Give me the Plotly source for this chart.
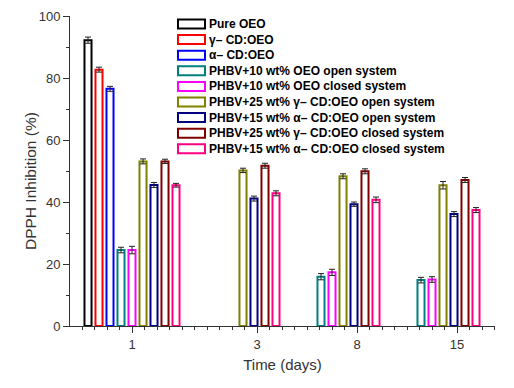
import numpy as np
import plotly.graph_objects as go

days = ["1", "3", "8", "15"]
series = [
    "Pure OEO",
    "γ– CD:OEO",
    "α– CD:OEO",
    "PHBV+10 wt% OEO open system",
    "PHBV+10 wt% OEO closed system",
    "PHBV+25 wt% γ– CD:OEO open system",
    "PHBV+15 wt% α– CD:OEO open system",
    "PHBV+25 wt% γ– CD:OEO closed system",
    "PHBV+15 wt% α– CD:OEO closed system",
]
colors = ["#000000", "#FF0000", "#0000FF", "#008080", "#FF00FF",
          "#808000", "#000080", "#800000", "#FF0080"]

pure_oeo = [92.2, None, None, None]
gamma_cd = [82.7, None, None, None]
alpha_cd = [76.5, None, None, None]
phbv10_open = [24.5, None, 15.9, 14.8]
phbv10_closed = [24.5, None, 17.3, 15.0]
phbv25g_open = [53.1, 50.2, 48.3, 45.4]
phbv15a_open = [45.5, 41.1, 39.3, 36.1]
phbv25g_closed = [53.1, 51.7, 49.9, 47.1]
phbv15a_closed = [45.4, 42.8, 40.7, 37.4]

err_pure = [1.0, None, None, None]
err_gamma = [0.8, None, None, None]
err_alpha = [0.8, None, None, None]
err_10_open = [0.9, None, 1.0, 0.9]
err_10_closed = [1.2, None, 1.0, 0.9]
err_25g_open = [0.8, 0.7, 0.8, 1.2]
err_15a_open = [0.8, 0.8, 0.7, 0.8]
err_25g_closed = [0.7, 0.8, 0.8, 0.8]
err_15a_closed = [0.6, 0.8, 0.9, 0.8]

values = [pure_oeo, gamma_cd, alpha_cd, phbv10_open, phbv10_closed,
          phbv25g_open, phbv15a_open, phbv25g_closed, phbv15a_closed]
errors = [err_pure, err_gamma, err_alpha, err_10_open, err_10_closed,
          err_25g_open, err_15a_open, err_25g_closed, err_15a_closed]

# tick label positions on the numeric group axis (as in the original figure)
label_pos = [1.0, 2.25, 3.25, 4.25]

x_idx = list(range(1, len(days) + 1))

fig = go.Figure()
for name, col, vals, errs in zip(series, colors, values, errors):
    fig.add_trace(go.Bar(
        x=x_idx, y=vals, name=name,
        marker=dict(color="rgba(255,255,255,0)", line=dict(color=col, width=2)),
        error_y=dict(type="data", array=errs, visible=True, color="#222222",
                     thickness=1, width=3),
        showlegend=False, hoverinfo="skip",
    ))

major = np.round(np.arange(0.5, 4.51, 0.25), 3)
ticktext = []
for v in major:
    lab = ""
    for p, d in zip(label_pos, days):
        if abs(v - p) < 1e-6:
            lab = d
    ticktext.append(lab)
minor_vals = list(np.round(np.arange(0.375, 4.63, 0.125), 3))

L, R, T, B = 70, 19, 16, 62
W, H = 514, 388
pw, ph = W - L - R, H - T - B

shapes = []
annotations = []
for i, (name, col) in enumerate(zip(series, colors)):
    yc = 24 + 15.6 * i
    y0 = (H - B - (yc + 4.5)) / ph
    y1 = (H - B - (yc - 4.5)) / ph
    shapes.append(dict(type="rect", xref="paper", yref="paper",
                       x0=(178 - L) / pw, x1=(205 - L) / pw, y0=y0, y1=y1,
                       line=dict(color=col, width=2), fillcolor="rgba(0,0,0,0)"))
    annotations.append(dict(xref="paper", yref="paper", x=(207 - L) / pw,
                            y=(H - B - yc) / ph, xanchor="left", yanchor="middle",
                            text="<b>" + name + "</b>", showarrow=False,
                            font=dict(family="Liberation Sans, Arial", size=12, color="#000000")))

# y-axis title
annotations.append(dict(xref="paper", yref="paper", x=(30 - L) / pw, y=(H - B - 181) / ph,
                        xanchor="center", yanchor="middle", textangle=-90, showarrow=False,
                        text="DPPH Inhibition (%)",
                        font=dict(family="Liberation Sans, Arial", size=15.5, color="#333333")))

fig.update_layout(
    width=W, height=H,
    margin=dict(l=L, r=R, t=T, b=B, autoexpand=False),
    paper_bgcolor="white", plot_bgcolor="white",
    barmode="group", bargap=0.01, bargroupgap=0.36,
    font=dict(family="Liberation Sans, Arial", color="#333333"),
    shapes=shapes, annotations=annotations,
    xaxis=dict(
        range=[0.38, 4.63], tickmode="array", tickvals=list(major), ticktext=ticktext,
        ticks="outside", ticklen=6, tickcolor="#333333", tickwidth=1,
        showline=True, linecolor="#333333", linewidth=1, showgrid=False, zeroline=False,
        tickfont=dict(size=13, color="#333333"), automargin=False,
        minor=dict(tickmode="array", tickvals=minor_vals, ticks="outside", ticklen=3,
                   tickcolor="#333333", showgrid=False),
        title=dict(text="Time (days)", font=dict(size=15, color="#333333"), standoff=8),
    ),
    yaxis=dict(
        range=[0, 100], tickmode="linear", tick0=0, dtick=20,
        ticks="outside", ticklen=6, tickcolor="#333333", tickwidth=1,
        showline=True, linecolor="#333333", linewidth=1, showgrid=False, zeroline=False,
        tickfont=dict(size=13, color="#333333"), automargin=False,
        minor=dict(dtick=10, ticks="outside", ticklen=3, tickcolor="#333333", showgrid=False),
    ),
)

fig.write_html("out.html", config={"displayModeBar": False},
               post_script="document.body.style.margin='0px';")
